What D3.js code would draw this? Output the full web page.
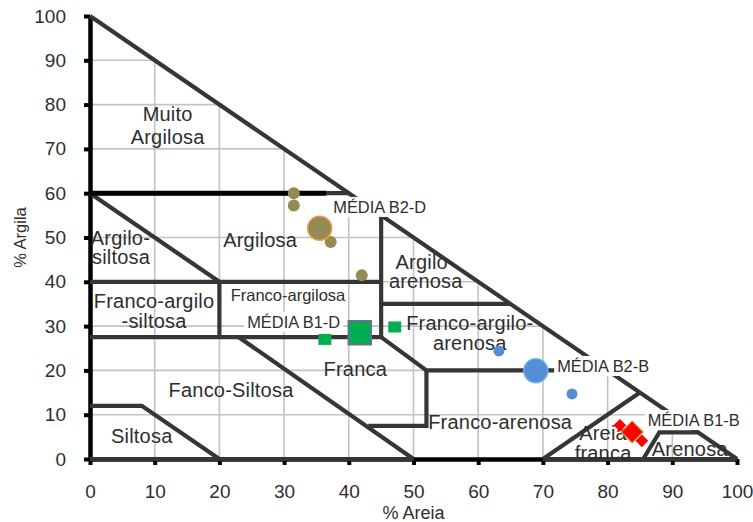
<!DOCTYPE html>
<html>
<head>
<meta charset="utf-8">
<script src="https://cdn.jsdelivr.net/npm/d3@7"></script>
<style>
  body { margin: 0; background: #fff; }
  svg { display: block; font-family: "Liberation Sans", Arial, sans-serif; }
</style>
</head>
<body>
<div id="chart"></div>
<script>
// ---- data (areia %, argila %) ----
const axisTicks = [0, 10, 20, 30, 40, 50, 60, 70, 80, 90, 100];
const gridSteps = [10, 20, 30, 40, 50, 60, 70, 80, 90];

// limites das classes texturais
const boundaries = [
  [[0, 100], [100, 0]],
  [[0, 60], [40, 60]],
  [[0, 60], [20, 40]],
  [[0, 40], [45, 40]],
  [[45, 55], [45, 27.5]],
  [[20, 40], [20, 27.5]],
  [[0, 27.5], [45, 27.5]],
  [[45, 35], [65, 35]],
  [[45, 27.5], [52, 20], [80, 20]],
  [[52, 20], [52, 7.5], [43, 7.5]],
  [[23, 27.5], [50, 0]],
  [[0, 12], [8, 12], [20, 0]],
  [[70, 0], [85, 15]],
  [[85.5, 0], [88, 6], [94, 6]],
  [[0, 0], [50, 0]],
  [[70, 0], [100, 0]]
];
const blackLine = [[0, 60], [36.5, 60]];

// nomes das classes (uma linha de texto cada)
const classLabels = [
  { t: "Muito", a: 12, g: 77.9 },
  { t: "Argilosa", a: 12, g: 72.6 },
  { t: "Argilosa", a: 26.3, g: 49.4 },
  { t: "Argilo-", a: 4.7, g: 49.9 },
  { t: "siltosa", a: 4.8, g: 45.5 },
  { t: "Argilo-", a: 51.8, g: 44.4 },
  { t: "arenosa", a: 51.9, g: 40.2 },
  { t: "Franco-argilo", a: 9.9, g: 35.6 },
  { t: "-siltosa", a: 9.9, g: 31.1 },
  { t: "Franco-argilo-", a: 58.7, g: 30.7 },
  { t: "arenosa", a: 58.7, g: 26.1 },
  { t: "Franca", a: 41, g: 20.3 },
  { t: "Fanco-Siltosa", a: 21.8, g: 15.6 },
  { t: "Franco-arenosa", a: 63.4, g: 8.4 },
  { t: "Siltosa", a: 8, g: 5.1 },
  { t: "Areia", a: 79.3, g: 5.9 },
  { t: "franca", a: 79.3, g: 1.3 },
  { t: "Arenosa", a: 92.7, g: 2.3 }
];
const smallLabels = [{ t: "Franco-argilosa", a: 30.6, g: 37 }];

// amostras
const b2dPoints = [[31.5, 60], [31.5, 57.2], [37.2, 49], [42, 41.5]];
const b2dMean = [35.5, 52.1];
const b1dPoints = [[36.3, 27], [47.1, 29.8]];
const b1dMean = [41.7, 28.5];
const b2bPoints = [[63.2, 24.4], [74.5, 14.7]];
const b2bMean = [68.9, 19.9];
const b1bPoints = [[81.9, 7.6], [85.3, 4.1]];
const b1bMean = [83.8, 6.1];

const meanLabels = [
  { t: "MÉDIA B2-D", a: 37.6, g: 56.9 },
  { t: "MÉDIA B1-D", a: 24.3, g: 31.0 },
  { t: "MÉDIA B2-B", a: 72.2, g: 21.0 },
  { t: "MÉDIA B1-B", a: 86.2, g: 8.8 }
];

// ---- chart ----
const W = 753, H = 522;
const svg = d3.select("#chart").append("svg")
  .attr("width", W)
  .attr("height", H);

const x = d3.scaleLinear().domain([0, 100]).range([90, 737]);
const y = d3.scaleLinear().domain([0, 100]).range([459, 16]);

const line = d3.line().x(d => x(d[0])).y(d => y(d[1]));
const textColor = "#2e2e2e";

// grade dentro do triangulo
const grid = svg.append("g");
grid.selectAll(".h").data(gridSteps).enter().append("line")
  .attr("x1", x(0)).attr("x2", d => x(100 - d))
  .attr("y1", d => y(d)).attr("y2", d => y(d));
grid.selectAll(".v").data(gridSteps).enter().append("line")
  .attr("x1", d => x(d)).attr("x2", d => x(d))
  .attr("y1", y(0)).attr("y2", d => y(100 - d));
grid.selectAll("line").attr("stroke", "#c3c3c3").attr("stroke-width", 1.6);

// eixos
const gx = svg.append("g")
  .attr("transform", `translate(0,${y(0)})`)
  .call(d3.axisBottom(x).tickValues(axisTicks).tickSize(6).tickSizeOuter(0).tickPadding(20));
const gy = svg.append("g")
  .attr("transform", `translate(${x(0)},0)`)
  .call(d3.axisLeft(y).tickValues(axisTicks).tickSize(6).tickSizeOuter(0).tickPadding(18));
[gx, gy].forEach(g => {
  g.select(".domain").attr("stroke", "#000").attr("stroke-width", 4.5);
  g.selectAll(".tick line").attr("stroke", "#000").attr("stroke-width", 4);
  g.selectAll(".tick text").attr("font-size", 19).attr("fill", textColor)
    .attr("font-family", "Liberation Sans, Arial, sans-serif");
});

// limites
svg.append("g").selectAll("path").data(boundaries).enter().append("path")
  .attr("d", line)
  .attr("fill", "none")
  .attr("stroke", "#363636")
  .attr("stroke-width", 4.2)
  .attr("stroke-linejoin", "miter");
svg.append("path").attr("d", line(blackLine))
  .attr("fill", "none").attr("stroke", "#000").attr("stroke-width", 5);

// nomes das classes
svg.append("g").selectAll("text").data(classLabels).enter().append("text")
  .attr("x", d => x(d.a)).attr("y", d => y(d.g))
  .attr("text-anchor", "middle").attr("dominant-baseline", "central")
  .attr("font-size", 20).attr("letter-spacing", 0.2).attr("fill", textColor)
  .text(d => d.t);
svg.append("g").selectAll("text").data(smallLabels).enter().append("text")
  .attr("x", d => x(d.a)).attr("y", d => y(d.g))
  .attr("text-anchor", "middle").attr("dominant-baseline", "central")
  .attr("font-size", 16.5).attr("fill", textColor)
  .text(d => d.t);

// rotulos das medias com fundo branco
const ml = svg.append("g").selectAll("g").data(meanLabels).enter().append("g");
ml.append("rect").attr("fill", "#fff");
ml.append("text")
  .attr("x", d => x(d.a)).attr("y", d => y(d.g))
  .attr("dominant-baseline", "central")
  .attr("font-size", 16.4).attr("fill", textColor)
  .text(d => d.t);
ml.each(function () {
  const b = d3.select(this).select("text").node().getBBox();
  d3.select(this).select("rect")
    .attr("x", b.x - 3).attr("y", b.y - 1)
    .attr("width", b.width + 6).attr("height", b.height + 2);
});

// B2-D: circulos oliva
const pts = svg.append("g");
pts.selectAll(".b2d").data(b2dPoints).enter().append("circle")
  .attr("cx", d => x(d[0])).attr("cy", d => y(d[1])).attr("r", 6)
  .attr("fill", "#948a54");
pts.append("circle")
  .attr("cx", x(b2dMean[0])).attr("cy", y(b2dMean[1])).attr("r", 12)
  .attr("fill", "#948a54").attr("stroke", "#f79646").attr("stroke-width", 1.5);

// B1-D: quadrados verdes
pts.selectAll(".b1d").data(b1dPoints).enter().append("rect")
  .attr("x", d => x(d[0]) - 6.5).attr("y", d => y(d[1]) - 5.5)
  .attr("width", 13).attr("height", 11)
  .attr("fill", "#00b050");
pts.append("rect")
  .attr("x", x(b1dMean[0]) - 11.5).attr("y", y(b1dMean[1]) - 12)
  .attr("width", 23).attr("height", 24)
  .attr("fill", "#00b050").attr("stroke", "#8064a2").attr("stroke-width", 1.5);

// B2-B: circulos azuis
pts.selectAll(".b2b").data(b2bPoints).enter().append("circle")
  .attr("cx", d => x(d[0])).attr("cy", d => y(d[1])).attr("r", 5.5)
  .attr("fill", "#558ed5");
pts.append("circle")
  .attr("cx", x(b2bMean[0])).attr("cy", y(b2bMean[1])).attr("r", 12)
  .attr("fill", "#558ed5").attr("stroke", "#6fb3e0").attr("stroke-width", 1.5);

// B1-B: losangos vermelhos
const diamond = d3.symbol().type(d3.symbolSquare);
pts.selectAll(".b1b").data(b1bPoints).enter().append("path")
  .attr("d", diamond.size(80)())
  .attr("transform", d => `translate(${x(d[0])},${y(d[1])}) rotate(45)`)
  .attr("fill", "#ff0000");
pts.append("path")
  .attr("d", diamond.size(240)())
  .attr("transform", `translate(${x(b1bMean[0])},${y(b1bMean[1])}) rotate(45)`)
  .attr("fill", "#ff0000").attr("stroke", "#c0a040").attr("stroke-width", 1.2);

// titulos dos eixos
svg.append("text")
  .attr("transform", `translate(20,${y(50)}) rotate(-90)`)
  .attr("text-anchor", "middle").attr("dominant-baseline", "central")
  .attr("font-size", 16.5).attr("fill", textColor)
  .text("% Argila");
svg.append("text")
  .attr("x", x(50)).attr("y", 513)
  .attr("text-anchor", "middle").attr("dominant-baseline", "central")
  .attr("font-size", 18).attr("fill", textColor)
  .text("% Areia");
</script>
</body>
</html>
